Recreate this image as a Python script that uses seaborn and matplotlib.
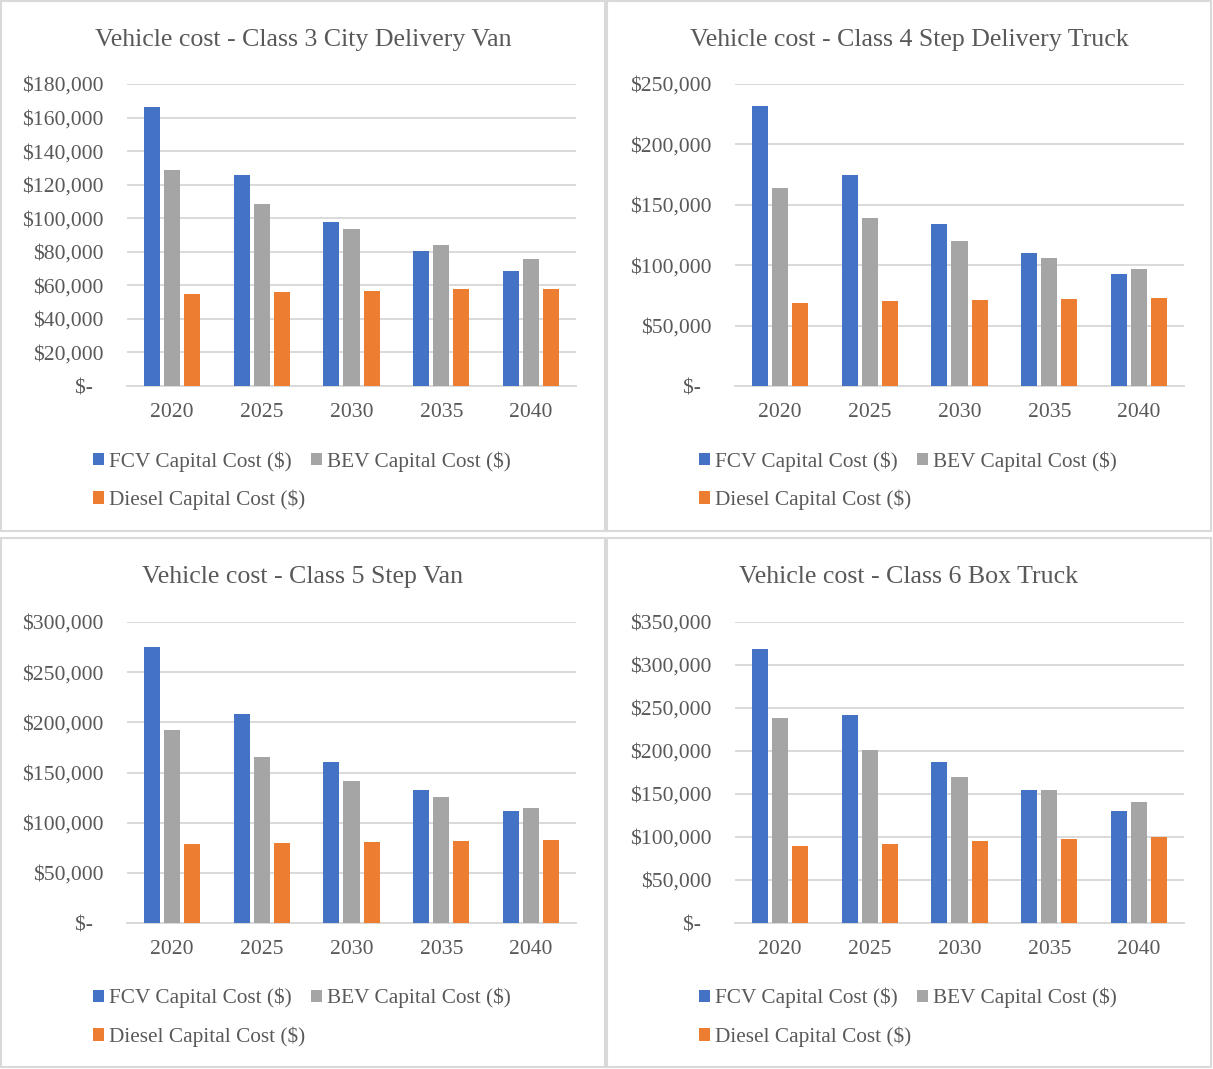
import matplotlib
matplotlib.use("Agg")
import matplotlib.pyplot as plt
from matplotlib.patches import Rectangle, Patch
from matplotlib.ticker import FuncFormatter, MultipleLocator
import pandas as pd
import seaborn as sns

# ---- data -------------------------------------------------------------
years = ["2020", "2025", "2030", "2035", "2040"]
series_names = ["FCV Capital Cost ($)", "BEV Capital Cost ($)", "Diesel Capital Cost ($)"]

class3_fcv = [166000, 126000, 97500, 80500, 68500]
class3_bev = [129000, 108500, 93800, 83800, 75700]
class3_diesel = [54800, 55800, 56800, 57900, 58000]

class4_fcv = [232000, 174500, 134000, 110000, 92400]
class4_bev = [164300, 139000, 120000, 106200, 97100]
class4_diesel = [68900, 70000, 71100, 72200, 73000]

class5_fcv = [274800, 208100, 160600, 132100, 111200]
class5_bev = [192800, 165600, 141400, 125800, 114800]
class5_diesel = [78700, 79700, 80600, 82000, 83000]

class6_fcv = [318600, 241600, 187400, 154500, 130500]
class6_bev = [238100, 201300, 170300, 154900, 140900]
class6_diesel = [89800, 91800, 94900, 97900, 99500]

titles = [
    "Vehicle cost - Class 3 City Delivery Van",
    "Vehicle cost - Class 4 Step Delivery Truck",
    "Vehicle cost - Class 5 Step Van",
    "Vehicle cost - Class 6 Box Truck",
]
y_max = [180000, 250000, 300000, 350000]
y_step = [20000, 50000, 50000, 50000]

colors = ["#4472C4", "#A5A5A5", "#ED7D31"]
text_color = "#595959"
grid_color = "#D9D9D9"

# ---- style ------------------------------------------------------------
sns.set_theme(style="white")
plt.rcParams["font.family"] = ["Liberation Serif", "DejaVu Serif"]

W, H = 1213, 1069
fig = plt.figure(figsize=(W / 100, H / 100), dpi=100)


def px_axes(x0, y0, x1, y1):
    """Axes from pixel box (top-left origin)."""
    return fig.add_axes([x0 / W, 1 - y1 / H, (x1 - x0) / W, (y1 - y0) / H])


def money(v, _pos):
    if v == 0:
        return "\\$-  "
    return "\\${:,.0f}".format(v)


panel_boxes = [
    (1, 1, 605, 531),
    (607, 1, 1211, 531),
    (1, 538, 605, 1067),
    (607, 538, 1211, 1067),
]
axes_boxes = [
    (127, 84, 576, 386),
    (735, 84, 1184, 386),
    (127, 622, 576, 923),
    (735, 622, 1184, 923),
]

datasets = [
    (class3_fcv, class3_bev, class3_diesel),
    (class4_fcv, class4_bev, class4_diesel),
    (class5_fcv, class5_bev, class5_diesel),
    (class6_fcv, class6_bev, class6_diesel),
]

for i in range(4):
    px0, py0, px1, py1 = panel_boxes[i]
    fig.patches.append(Rectangle((px0 / W, 1 - py1 / H), (px1 - px0) / W, (py1 - py0) / H,
                                 transform=fig.transFigure, fill=False,
                                 edgecolor=grid_color, linewidth=1.5, zorder=0))

    fcv, bev, diesel = datasets[i]
    df = pd.DataFrame({
        "year": years * 3,
        "series": [series_names[0]] * 5 + [series_names[1]] * 5 + [series_names[2]] * 5,
        "cost": fcv + bev + diesel,
    })

    ax = px_axes(*axes_boxes[i])
    sns.barplot(data=df, x="year", y="cost", hue="series", palette=colors,
                width=0.67, gap=0.2, saturation=1, ax=ax, legend=False,
                linewidth=0, zorder=3)

    ax.set_ylim(0, y_max[i])
    ax.yaxis.set_major_locator(MultipleLocator(y_step[i]))
    ax.yaxis.set_major_formatter(FuncFormatter(money))
    ax.set_xlim(-0.5, 4.5)
    ax.set_xlabel("")
    ax.set_ylabel("")
    ax.grid(axis="y", color=grid_color, linewidth=1.4, zorder=0)
    ax.set_axisbelow(True)
    for side in ["left", "right", "top"]:
        ax.spines[side].set_visible(False)
    ax.spines["bottom"].set_color(grid_color)
    ax.spines["bottom"].set_linewidth(1.4)
    ax.tick_params(axis="y", length=0, pad=17, labelsize=15.6, labelcolor=text_color)
    ax.tick_params(axis="x", length=0, pad=12, labelsize=15.6, labelcolor=text_color)

    cx = (px0 + px1) / 2
    fig.text(cx / W, 1 - (py0 + 39) / H, titles[i], ha="center", va="center",
             fontsize=18.6, color=text_color)

    handles = [Patch(facecolor=c, edgecolor="none") for c in colors]
    labels = [s.replace("$", "\\$") for s in series_names]
    order = [0, 2, 1]
    leg_y = py0 + 450
    fig.legend([handles[k] for k in order], [labels[k] for k in order],
               loc="upper left", bbox_to_anchor=((px0 + 92) / W, 1 - leg_y / H),
               ncol=2, frameon=False, fontsize=15.3, labelcolor=text_color,
               handlelength=0.5, handleheight=0.5, handletextpad=0.25,
               columnspacing=0.3, labelspacing=0.85, borderpad=0, borderaxespad=0)

fig.savefig("out.png", dpi=100, facecolor="white")
